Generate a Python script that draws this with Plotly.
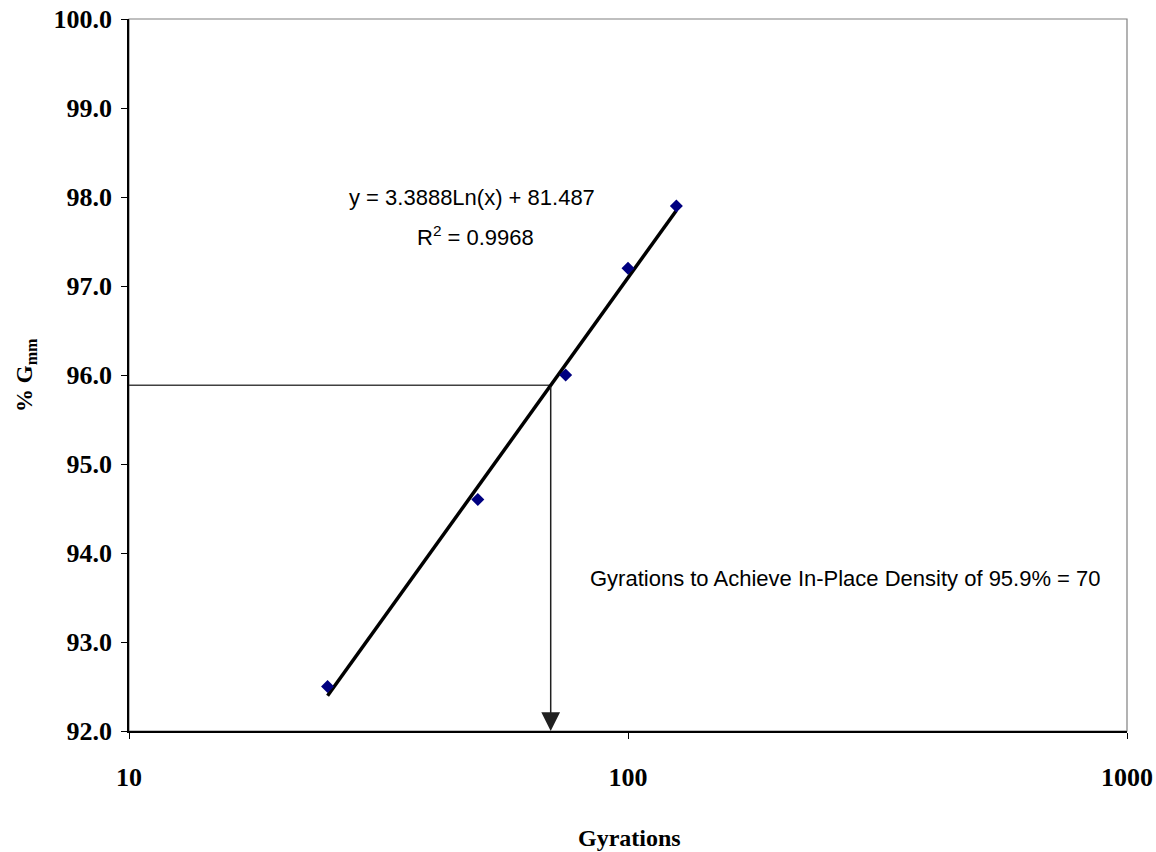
import numpy as np
import plotly.graph_objects as go

# Data
gyrations = [25, 50, 75, 100, 125]
pct_gmm = [92.5, 94.6, 96.0, 97.2, 97.9]

# Logarithmic trend: y = a*ln(x) + b
trend_a = 3.3888
trend_b = 81.487
r_squared = 0.9968
trend_x = [25, 125]

target_density = 95.9
target_gyrations = 70

x_ticks = [10, 100, 1000]
y_ticks = [92.0, 93.0, 94.0, 95.0, 96.0, 97.0, 98.0, 99.0, 100.0]

trend_y = [trend_a * np.log(v) + trend_b for v in trend_x]
target_y = trend_a * np.log(target_gyrations) + trend_b

serif = "Liberation Serif, Times New Roman, serif"
sans = "Liberation Sans, Arial, sans-serif"

W, H = 1156, 852
ml, mr, mt, mb = 129, 29, 19, 121
pw, ph = W - ml - mr, H - mt - mb


def px(xp):
    return (xp - ml) / pw


def py(yp):
    return 1 - (yp - mt) / ph


fig = go.Figure()

# reference horizontal line
fig.add_trace(go.Scatter(
    x=[10, target_gyrations], y=[target_y, target_y], mode="lines",
    line=dict(color="#404040", width=1.5), hoverinfo="skip", showlegend=False,
))

# trendline
fig.add_trace(go.Scatter(
    x=trend_x, y=trend_y, mode="lines",
    line=dict(color="black", width=3.5), showlegend=False,
))

# data points
fig.add_trace(go.Scatter(
    x=gyrations, y=pct_gmm, mode="markers",
    marker=dict(symbol="diamond", color="#000080", size=10),
    showlegend=False,
))

# vertical arrow down to x-axis
fig.add_annotation(
    x=np.log10(target_gyrations), y=92.0,
    ax=np.log10(target_gyrations), ay=target_y,
    xref="x", yref="y", axref="x", ayref="y",
    showarrow=True, arrowhead=2, arrowsize=2.5, arrowwidth=1.5,
    arrowcolor="#202020", text="",
)

fig.add_annotation(
    x=px(472), y=py(198), xref="paper", yref="paper",
    text=f"y = {trend_a}Ln(x) + {trend_b}", showarrow=False,
    font=dict(family=sans, size=22, color="black"),
    xanchor="center", yanchor="middle",
)
fig.add_annotation(
    x=px(475), y=py(236), xref="paper", yref="paper",
    text=f"R<sup>2</sup> = {r_squared}", showarrow=False,
    font=dict(family=sans, size=22, color="black"),
    xanchor="center", yanchor="middle",
)
fig.add_annotation(
    x=px(845), y=py(578), xref="paper", yref="paper",
    text=f"Gyrations to Achieve In-Place Density of {target_density}% = {target_gyrations}",
    showarrow=False,
    font=dict(family=sans, size=22, color="black"),
    xanchor="center", yanchor="middle",
)

# axis titles
fig.add_annotation(
    x=px(629), y=py(838), xref="paper", yref="paper",
    text="<b>Gyrations</b>", showarrow=False,
    font=dict(family=serif, size=24, color="black"),
    xanchor="center", yanchor="middle",
)
fig.add_annotation(
    x=px(26), y=py(375), xref="paper", yref="paper",
    text="<b>% G<sub>mm</sub></b>", showarrow=False, textangle=-90,
    font=dict(family=serif, size=23, color="black"),
    xanchor="center", yanchor="middle",
)

# plot area border (gray)
fig.add_shape(type="rect", xref="paper", yref="paper", x0=0, y0=0, x1=1, y1=1,
              line=dict(color="#808080", width=1.2), layer="below")

fig.update_layout(
    width=W, height=H,
    margin=dict(l=ml, r=mr, t=mt, b=mb, autoexpand=False),
    paper_bgcolor="white", plot_bgcolor="white",
    showlegend=False,
    xaxis=dict(
        type="log", range=[1, 3], tickvals=x_ticks, ticktext=[str(v) for v in x_ticks],
        showgrid=False, zeroline=False, showline=True, linecolor="black", linewidth=1.5,
        ticks="outside", ticklen=6, tickcolor="black", ticklabelstandoff=16,
        tickfont=dict(family=serif, size=26, color="black", weight="bold"),
        automargin=False,
    ),
    yaxis=dict(
        range=[92, 100], tickvals=y_ticks, tickformat=".1f",
        showgrid=False, zeroline=False, showline=True, linecolor="black", linewidth=1.5,
        ticks="outside", ticklen=6, tickcolor="black", ticklabelstandoff=4,
        tickfont=dict(family=serif, size=26, color="black", weight="bold"),
        automargin=False,
    ),
)

fig.write_html("out.html")
